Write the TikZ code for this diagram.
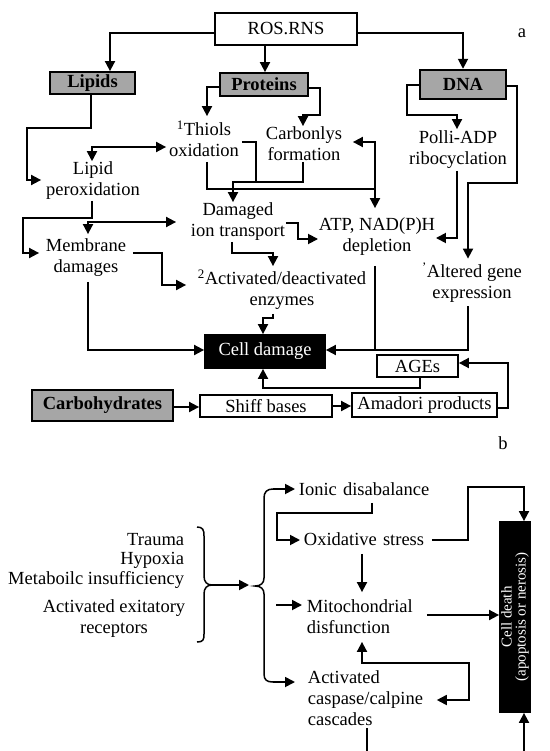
\documentclass[tikz,border=0pt]{standalone}
\usepackage{fontspec}
\setmainfont{Liberation Serif}
\usetikzlibrary{arrows.meta}
\newcommand\myfs{\fontsize{18.5}{21}\selectfont}
\begin{document}
\begin{tikzpicture}[x=1pt,y=-1pt,line width=1.8pt,
  >={Triangle[length=10pt,width=10pt]},
  box/.style={draw,line width=1.8pt,inner sep=0pt,font=\myfs},
  gbox/.style={box,fill=black!35,font=\myfs\bfseries},
  txt/.style={inner sep=0pt,align=center,font=\myfs},
  ltxt/.style={inner sep=0pt,align=left,font=\myfs,anchor=west},
  arr/.style={->},
  arrb/.style={<->}]
\useasboundingbox (0,0) rectangle (549,751);
% ---------- panel a : nodes
\node[box,minimum width=142,minimum height=32] (ros) at (286,29) {ROS.RNS};
\node[font=\myfs] (laba) at (522,33) {a};
\node[gbox,minimum width=85,minimum height=22] (lipids) at (92.5,83) {Lipids};
\node[gbox,minimum width=88,minimum height=23] (proteins) at (264,84.5) {Proteins};
\node[gbox,line width=2.4pt,minimum width=86,minimum height=29] (dna) at (463,84.5) {DNA};
\node[txt,minimum width=74,minimum height=44] (thiols) at (204,139) {\textsuperscript{1}Thiols\\oxidation};
\node[txt,minimum width=96,minimum height=34] (carb) at (304,144) {Carbonlys\\formation};
\node[txt,minimum width=102,minimum height=36] (lipidper) at (93,181) {Lipid\\peroxidation};
\node[txt,minimum width=100,minimum height=40] (polli) at (458,150) {Polli-ADP\\ribocyclation};
\node[txt,minimum width=94,minimum height=38] (damaged) at (238,222) {Damaged\\ion transport};
\node[txt,minimum width=115,minimum height=56] (atp) at (377,237) {ATP, NAD(P)H\\depletion};
\node[txt,minimum width=92,minimum height=46] (membrane) at (86,258) {Membrane\\damages};
\node[txt,minimum width=100,minimum height=46] (altered) at (472,282.5) {\textsuperscript{'}Altered gene\\expression};
\node[txt,minimum width=190,minimum height=46] (activated) at (282,290) {\textsuperscript{2}Activated/deactivated\\enzymes};
\node[box,fill=black,text=white,minimum width=120,minimum height=33] (celldmg) at (265,351.5) {Cell damage};
\node[box,minimum width=81,minimum height=22] (ages) at (417.5,366) {AGEs};
\node[gbox,minimum width=141,minimum height=31] (carbo) at (102.5,405.5) {Carbohydrates};
\node[box,minimum width=132,minimum height=22] (shiff) at (266,406) {Shiff bases};
\node[box,minimum width=145,minimum height=24] (amadori) at (424.5,405) {Amadori products};
% ---------- panel a : connectors
\draw[arr] (ros.west |- 0,33) -| (lipids.north -| 110,0);
\draw[arr] (ros.south -| 265,0) -- (proteins.north -| 265,0);
\draw[arr] (ros.east |- 0,33) -| (dna.north);
\draw[arr] (lipids.south -| 91,0) |- (27,128) |- (lipidper.west |- 0,180);
\draw[arr] (proteins.west |- 0,87) -| (thiols.north -| 207,0);
\draw[arr] (proteins.east |- 0,88) -| (320,115) -| (carb.north -| 303,0);
\draw[arrb] (lipidper.north -| 92,0) |- (thiols.west |- 0,147);
\draw (thiols.east |- 0,142) -| (256,182);
\draw[arr] (carb.south -| 303,0) |- (233,182) -- (damaged.north -| 233,0);
\draw[arr] (thiols.south -| 207,0) |- (375,189) -- (atp.north -| 375,0);
\draw[arr] (375,189) |- (carb.east |- 0,142);
\draw[arr] (lipidper.south -| 92,0) |- (23,218) |- (membrane.west |- 0,253);
\draw[arrb,shorten >=14pt] (membrane.north -| 88,0) |- (damaged.west |- 0,222);
\draw[arr] (damaged.east |- 0,223) -| (298,239) -- (atp.west |- 0,239);
\draw[arr] (damaged.south -| 232,0) |- (273,253) -- (activated.north -| 273,0);
\draw[arr] (membrane.east |- 0,253) -| (162,285) -- (activated.west |- 0,285);
\draw[arr] (activated.south -| 273,0) |- (263,318) -- (celldmg.north -| 263,0);
\draw[arr] (membrane.south -| 88,0) |- (celldmg.west |- 0,350);
\draw[arr] (dna.west |- 0,85) -| (407,115) -| (polli.north -| 457,0);
\draw[arr] (polli.south -| 457,0) |- (atp.east |- 0,238);
\draw[arr] (dna.east |- 0,86) -| (517,183) -| (altered.north -| 468,0);
\draw[arr] (altered.south -| 468,0) |- (celldmg.east |- 0,350);
\draw (atp.south -| 375,0) -- (375,350);
\draw[arr] (carbo.east |- 0,407) -- (shiff.west |- 0,407);
\draw[arr] (shiff.east) -- (amadori.west |- shiff.east);
\draw[arr] (amadori.east |- 0,408) -| (508,363) -- (ages.east |- 0,363);
\draw[arr] (ages.south -| 420,0) |- (263,388) -- (celldmg.south -| 263,0);
% ---------- panel b : nodes
\node[font=\myfs] (labb) at (503,443) {b};
\node[txt,anchor=east] (trauma) at (185,540) {Trauma};
\node[txt,anchor=east] (hypoxia) at (185,560) {Hypoxia};
\node[txt,anchor=east] (metab) at (185,580) {Metaboilc insufficiency};
\node[txt] (exit) at (114,619) {Activated exitatory\\receptors};
\node[ltxt,inner xsep=3,text width=132,minimum height=26] (ionic) at (295,489) {Ionic disabalance};
\node[ltxt,inner xsep=3,text width=124,minimum height=28] (oxid) at (300,539) {Oxidative stress};
\node[ltxt,inner xsep=4,text width=115,minimum height=48] (mito) at (302,617) {Mitochondrial\\disfunction};
\node[ltxt,inner xsep=12,text width=116,minimum height=58] (casc) at (295,698) {Activated\\caspase/calpine\\cascades};
\node[box,fill=black,minimum width=30,minimum height=190,
  label={[rotate=90,text=white,align=center,inner sep=0pt,font=\fontsize{15}{14}\selectfont]center:Cell death\\(apoptosis or nerosis)}] (celldeath) at (515,617) {};
% braces
\draw[line width=1.5pt] (197,527) .. controls (203,527) and (204,530) .. (204,536) -- (204,576)
  .. controls (204,582) and (207,585) .. (212,585) .. controls (207,585) and (204,588) .. (204,594)
  -- (204,634) .. controls (204,640) and (203,642) .. (197,642);
\draw[line width=1.5pt] (273,489) .. controls (267,489) and (264,492) .. (264,498) -- (264,578)
  .. controls (264,583) and (261,586) .. (255,586) .. controls (261,586) and (264,589) .. (264,594)
  -- (264,674) .. controls (264,680) and (267,682) .. (273,682);
\coordinate (sbtip) at (212,585);
\coordinate (bbin) at (249,585);
\coordinate (bbtop) at (273,489);
\coordinate (bbmid) at (276,605);
\coordinate (bbbot) at (273,682);
\coordinate (cbot) at (367,751);
\coordinate (dbot) at (524,751);
% ---------- panel b : connectors
\draw[arr] (sbtip) -- (bbin);
\draw[arr] (bbtop) -- (ionic.west);
\draw[arr] (bbmid) -- (mito.west |- 0,605);
\draw[arr] (bbbot) -- (casc.west |- 0,682);
\draw[arr] (ionic.south -| 372,0) |- (277,513) |- (oxid.west |- 0,540);
\draw[arr] (oxid.east |- 0,540) -| (468,487) -| (celldeath.north -| 524,0);
\draw[arr] (oxid.south -| 362,0) -- (mito.north -| 362,0);
\draw[arr] (mito.east |- 0,615) -- (celldeath.west |- 0,615);
\draw[arrb] (mito.south -| 362,0) |- (469,663) |- (casc.east |- 0,700);
\draw (casc.south -| 367,0) -- (cbot);
\draw[arr] (dbot) -- (celldeath.south -| 524,0);
\end{tikzpicture}
\end{document}
